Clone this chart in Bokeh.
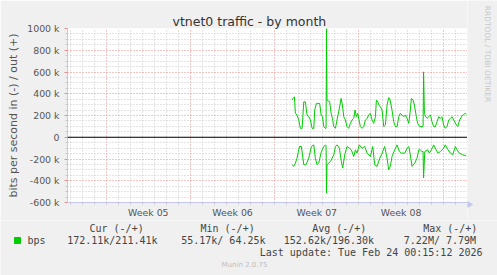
import math
from bokeh.plotting import figure
from bokeh.models import Range1d, FixedTicker, Span, Title
from bokeh.layouts import column, row
from bokeh.core.properties import value
from bokeh.embed import file_html
from bokeh.resources import INLINE

# ---- data (x: days since Mon 2026-01-26 00:00, y: kbit/s) ----
out_days = [15.45, 15.53, 15.64, 15.72, 15.86, 16.00, 16.14, 16.28, 16.42, 16.55,
            16.69, 16.83, 16.97, 17.11, 17.25, 17.33, 17.47, 17.58, 17.74, 17.86,
            17.97, 18.08, 18.21, 18.27, 18.31, 18.35, 18.57, 18.69, 18.80, 18.91,
            19.05, 19.18, 19.35, 19.52, 19.63, 19.74, 19.88, 20.01, 20.15, 20.29,
            20.43, 20.57, 20.68, 20.79, 20.90, 21.01, 21.12, 21.26, 21.40, 21.54,
            21.68, 21.81, 21.95, 22.09, 22.23, 22.37, 22.45, 22.56, 22.67, 22.78,
            22.92, 23.06, 23.20, 23.34, 23.47, 23.56, 23.75, 23.89, 24.03, 24.17,
            24.31, 24.44, 24.58, 24.72, 24.86, 25.00, 25.14, 25.27, 25.36, 25.50,
            25.61, 25.77, 25.88, 26.05, 26.24, 26.33, 26.37, 26.44, 26.55, 26.66,
            26.80, 26.94, 27.07, 27.21, 27.35, 27.49, 27.63, 27.77, 27.90, 28.04,
            28.18, 28.32, 28.46, 28.60, 28.74, 28.87, 29.10, 29.21, 29.37, 29.57,
            29.70, 29.84, 29.93]
out_k = [342, 357, 372, 220, 204, 159, 82, 82, 326, 326,
         204, 189, 159, 82, 82, 250, 311, 311, 311, 204,
         189, 98, 82, 82, 1000, 342, 326, 220, 174, 98,
         82, 159, 250, 357, 296, 189, 159, 98, 82, 128,
         159, 174, 250, 189, 220, 159, 98, 82, 98, 159,
         174, 204, 220, 159, 128, 189, 342, 326, 296, 281,
         250, 98, 113, 296, 363, 357, 250, 143, 98, 98,
         189, 220, 204, 189, 204, 174, 128, 250, 357, 342,
         296, 189, 128, 98, 98, 98, 601, 220, 189, 174,
         189, 204, 143, 98, 98, 143, 189, 174, 189, 113,
         82, 98, 159, 174, 189, 159, 113, 98, 159, 198,
         210, 220, 211]

in_days = [15.45, 15.58, 15.72, 15.86, 16.06, 16.22, 16.42, 16.61, 16.83, 17.05,
           17.25, 17.38, 17.52, 17.66, 17.88, 18.08, 18.21, 18.27, 18.31, 18.35,
           18.63, 18.91, 19.05, 19.18, 19.38, 19.54, 19.65, 19.82, 20.01, 20.21,
           20.37, 20.57, 20.71, 20.84, 21.04, 21.26, 21.48, 21.68, 21.95, 22.15,
           22.31, 22.51, 22.73, 22.87, 23.14, 23.34, 23.47, 23.61, 23.75, 23.97,
           24.17, 24.36, 24.53, 24.80, 25.00, 25.14, 25.27, 25.41, 25.63, 25.83,
           25.97, 26.10, 26.24, 26.33, 26.37, 26.47, 26.71, 26.85, 27.02, 27.21,
           27.41, 27.57, 27.77, 28.04, 28.18, 28.40, 28.60, 28.79, 29.01, 29.15,
           29.34, 29.62, 29.84, 29.93]
in_k = [253, 268, 238, 192, 85, 85, 253, 253, 192, 85,
        70, 192, 253, 238, 131, 85, 70, 79, 512, 253,
        223, 162, 85, 70, 101, 223, 284, 162, 85, 101,
        116, 177, 116, 146, 70, 101, 85, 146, 177, 85,
        253, 268, 192, 162, 85, 192, 299, 268, 177, 116,
        70, 131, 146, 146, 101, 85, 162, 268, 238, 192,
        116, 116, 131, 131, 375, 131, 116, 146, 116, 70,
        116, 146, 131, 101, 70, 116, 146, 162, 85, 116,
        146, 162, 168, 172]

week_starts = [0, 7, 14, 21, 28]
week_mids = [3.5, 10.5, 17.5, 24.5]
week_labels = ["Week 05", "Week 06", "Week 07", "Week 08"]
y_ticks = [-600, -400, -200, 0, 200, 400, 600, 800, 1000]
y_labels = ["-600 k", "-400 k", "-200 k", "0", "200 k", "400 k", "600 k", "800 k", "1000 k"]

title = "vtnet0 traffic - by month"
ylabel = "bits per second in (-) / out (+)"
series_name = "bps"
headers = ["Cur (-/+)", "Min (-/+)", "Avg (-/+)", "Max (-/+)"]
stats = ["172.11k/211.41k", "55.17k/ 64.25k", "152.62k/196.30k", "7.22M/   7.79M"]
last_update = "Last update: Tue Feb 24 00:15:12 2026"
footer = "Munin 2.0.75"
watermark = "RRDTOOL / TOBI OETIKER"

GREEN = "#00CC00"
MAJ = "#E88C8C"
MIN = "#C8C8C8"
AXIS = "#C4C8EE"
TXT = "#555555"
BG = "#F0F0F0"

W = 497
MAIN_W, MAIN_H = 467, 220
BOT_H = 55


def strip(w, h, x0, y0):
    """A helper canvas whose frame fills it, addressed in page pixels (y down)."""
    f = figure(width=w, height=h, output_backend="svg", toolbar_location=None,
               x_range=Range1d(x0, x0 + w), y_range=Range1d(y0 + h, y0),
               x_axis_type=None, y_axis_type=None, title=None, frame_align=False,
               min_border=0, background_fill_color=BG, border_fill_color=BG)
    f.outline_line_color = None
    f.xgrid.visible = False
    f.ygrid.visible = False
    return f


def txt(f, x, y, s, size="10px", font="DejaVu Sans Mono", color="#444444", align="left", angle=0.0):
    f.text(x=[x], y=[y], text=[s], text_font=value(font), text_font_size=value(size),
           text_color=color, text_align=align, text_baseline="middle", angle=angle)


# ---- main plot ----
p = figure(width=MAIN_W, height=MAIN_H, output_backend="svg", toolbar_location=None, title=None,
           x_range=Range1d(-3.21, 30.02), y_range=Range1d(-600, 1000), frame_align=False,
           min_border_left=67, min_border_right=0, min_border_top=28, min_border_bottom=16,
           background_fill_color="white", border_fill_color=BG)
p.outline_line_color = None
p.title = Title(text=title, align="left", offset=105, standoff=0,
                text_font="DejaVu Sans", text_font_size="12.5px",
                text_font_style="normal", text_color="#333333")

day_minor = [d for d in range(-3, 31) if d % 7 != 0]
y_minor = [v for v in range(-600, 1001, 50) if v % 200 != 0]

p.xgrid.ticker = FixedTicker(ticks=week_starts, minor_ticks=day_minor)
p.xgrid.grid_line_color = MAJ
p.xgrid.grid_line_dash = "1 2"
p.xgrid.minor_grid_line_color = MIN
p.xgrid.minor_grid_line_dash = "1 2"
p.ygrid.ticker = FixedTicker(ticks=y_ticks, minor_ticks=y_minor)
p.ygrid.grid_line_color = MAJ
p.ygrid.grid_line_dash = "1 2"
p.ygrid.minor_grid_line_color = MIN
p.ygrid.minor_grid_line_dash = "1 2"

xa = p.xaxis[0]
xa.ticker = FixedTicker(ticks=week_mids, minor_ticks=day_minor + week_starts)
xa.major_label_overrides = dict(zip(week_mids, week_labels))
xa.major_tick_line_color = None
xa.major_tick_out = 0
xa.major_tick_in = 0
xa.minor_tick_line_color = MIN
xa.minor_tick_out = 2
xa.minor_tick_in = 0
xa.axis_line_color = AXIS
xa.major_label_standoff = 2
xa.major_label_text_font = "DejaVu Sans"
xa.major_label_text_font_size = "9.4px"
xa.major_label_text_font_style = "normal"
xa.major_label_text_color = TXT

ya = p.yaxis[0]
ya.ticker = FixedTicker(ticks=y_ticks, minor_ticks=y_minor)
ya.major_label_overrides = dict(zip(y_ticks, y_labels))
ya.major_tick_line_color = MAJ
ya.major_tick_out = 3
ya.major_tick_in = 0
ya.minor_tick_line_color = MIN
ya.minor_tick_out = 2
ya.minor_tick_in = 0
ya.axis_line_color = AXIS
ya.major_label_standoff = 5
ya.major_label_text_font = "DejaVu Sans"
ya.major_label_text_font_size = "9.4px"
ya.major_label_text_font_style = "normal"
ya.major_label_text_color = TXT
ya.axis_label = ylabel
ya.axis_label_text_font = "DejaVu Sans"
ya.axis_label_text_font_size = "11px"
ya.axis_label_text_font_style = "normal"
ya.axis_label_text_color = TXT
ya.axis_label_standoff = 4

p.add_layout(Span(location=0, dimension="width", line_color="black", line_width=1))
p.line(out_days, out_k, line_color=GREEN, line_width=1)
p.line(in_days, [-v for v in in_k], line_color=GREEN, line_width=1)

# ---- right strip (page x 467..497, y 0..220) ----
r = strip(W - MAIN_W, MAIN_H, MAIN_W, 0)
txt(r, 487, 53.5, watermark, size="7.5px", font="DejaVu Sans", color="#C8C8C8", align="center",
    angle=-math.pi / 2)
r.patch([467, 467, 472], [201, 207, 204], fill_color=AXIS, line_color=AXIS)

# ---- legend strip (page y 220..275) ----
y0 = MAIN_H
q = strip(W, BOT_H, 0, y0)
for hx, h in zip([89, 200, 311.7, 422.7], headers):
    txt(q, hx, 228, h)
q.quad(left=[14], right=[20], top=[237], bottom=[243], fill_color=GREEN, line_color=GREEN)
txt(q, 27, 240, series_name)
for sx, s in zip([66.7, 180.7, 283.3, 403.3], stats):
    txt(q, sx, 240, s)
txt(q, 482, 251.5, last_update, align="right")
txt(q, 244, 264, footer, size="7px", font="DejaVu Sans", color="#BDBDBD", align="center")

layout = column(row(p, r), q)
open("out.html", "w").write(file_html(layout, INLINE))
